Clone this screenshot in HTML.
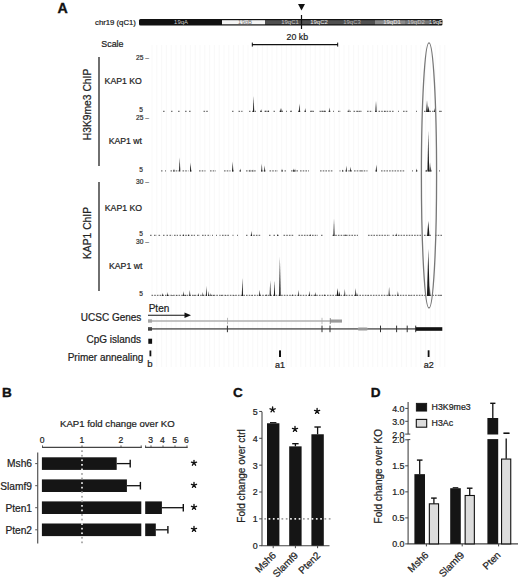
<!DOCTYPE html>
<html><head><meta charset="utf-8"><title>Figure</title>
<style>
html,body{margin:0;padding:0;background:#fff;}
svg{display:block;}
text{font-family:"Liberation Sans", sans-serif;}
</style></head>
<body>
<svg width="520" height="579" viewBox="0 0 520 579">
<rect x="0" y="0" width="520" height="579" fill="#fff"/>
<line x1="152.0" y1="45" x2="152.0" y2="367" stroke="#f6f6f6" stroke-width="0.7" />
<line x1="156.8" y1="45" x2="156.8" y2="367" stroke="#f6f6f6" stroke-width="0.7" />
<line x1="161.6" y1="45" x2="161.6" y2="367" stroke="#f6f6f6" stroke-width="0.7" />
<line x1="166.4" y1="45" x2="166.4" y2="367" stroke="#f6f6f6" stroke-width="0.7" />
<line x1="171.2" y1="45" x2="171.2" y2="367" stroke="#f6f6f6" stroke-width="0.7" />
<line x1="176.0" y1="45" x2="176.0" y2="367" stroke="#f6f6f6" stroke-width="0.7" />
<line x1="180.8" y1="45" x2="180.8" y2="367" stroke="#f6f6f6" stroke-width="0.7" />
<line x1="185.6" y1="45" x2="185.6" y2="367" stroke="#f6f6f6" stroke-width="0.7" />
<line x1="190.4" y1="45" x2="190.4" y2="367" stroke="#f6f6f6" stroke-width="0.7" />
<line x1="195.2" y1="45" x2="195.2" y2="367" stroke="#f6f6f6" stroke-width="0.7" />
<line x1="200.0" y1="45" x2="200.0" y2="367" stroke="#f6f6f6" stroke-width="0.7" />
<line x1="204.8" y1="45" x2="204.8" y2="367" stroke="#f6f6f6" stroke-width="0.7" />
<line x1="209.6" y1="45" x2="209.6" y2="367" stroke="#f6f6f6" stroke-width="0.7" />
<line x1="214.4" y1="45" x2="214.4" y2="367" stroke="#f6f6f6" stroke-width="0.7" />
<line x1="219.2" y1="45" x2="219.2" y2="367" stroke="#f6f6f6" stroke-width="0.7" />
<line x1="224.0" y1="45" x2="224.0" y2="367" stroke="#f6f6f6" stroke-width="0.7" />
<line x1="228.8" y1="45" x2="228.8" y2="367" stroke="#f6f6f6" stroke-width="0.7" />
<line x1="233.6" y1="45" x2="233.6" y2="367" stroke="#f6f6f6" stroke-width="0.7" />
<line x1="238.4" y1="45" x2="238.4" y2="367" stroke="#f6f6f6" stroke-width="0.7" />
<line x1="243.2" y1="45" x2="243.2" y2="367" stroke="#f6f6f6" stroke-width="0.7" />
<line x1="248.0" y1="45" x2="248.0" y2="367" stroke="#f6f6f6" stroke-width="0.7" />
<line x1="252.8" y1="45" x2="252.8" y2="367" stroke="#f6f6f6" stroke-width="0.7" />
<line x1="257.6" y1="45" x2="257.6" y2="367" stroke="#f6f6f6" stroke-width="0.7" />
<line x1="262.4" y1="45" x2="262.4" y2="367" stroke="#f6f6f6" stroke-width="0.7" />
<line x1="267.2" y1="45" x2="267.2" y2="367" stroke="#f6f6f6" stroke-width="0.7" />
<line x1="272.0" y1="45" x2="272.0" y2="367" stroke="#f6f6f6" stroke-width="0.7" />
<line x1="276.8" y1="45" x2="276.8" y2="367" stroke="#f6f6f6" stroke-width="0.7" />
<line x1="281.6" y1="45" x2="281.6" y2="367" stroke="#f6f6f6" stroke-width="0.7" />
<line x1="286.4" y1="45" x2="286.4" y2="367" stroke="#f6f6f6" stroke-width="0.7" />
<line x1="291.2" y1="45" x2="291.2" y2="367" stroke="#f6f6f6" stroke-width="0.7" />
<line x1="296.0" y1="45" x2="296.0" y2="367" stroke="#f6f6f6" stroke-width="0.7" />
<line x1="300.8" y1="45" x2="300.8" y2="367" stroke="#f6f6f6" stroke-width="0.7" />
<line x1="305.6" y1="45" x2="305.6" y2="367" stroke="#f6f6f6" stroke-width="0.7" />
<line x1="310.4" y1="45" x2="310.4" y2="367" stroke="#f6f6f6" stroke-width="0.7" />
<line x1="315.2" y1="45" x2="315.2" y2="367" stroke="#f6f6f6" stroke-width="0.7" />
<line x1="320.0" y1="45" x2="320.0" y2="367" stroke="#f6f6f6" stroke-width="0.7" />
<line x1="324.8" y1="45" x2="324.8" y2="367" stroke="#f6f6f6" stroke-width="0.7" />
<line x1="329.6" y1="45" x2="329.6" y2="367" stroke="#f6f6f6" stroke-width="0.7" />
<line x1="334.4" y1="45" x2="334.4" y2="367" stroke="#f6f6f6" stroke-width="0.7" />
<line x1="339.2" y1="45" x2="339.2" y2="367" stroke="#f6f6f6" stroke-width="0.7" />
<line x1="344.0" y1="45" x2="344.0" y2="367" stroke="#f6f6f6" stroke-width="0.7" />
<line x1="348.8" y1="45" x2="348.8" y2="367" stroke="#f6f6f6" stroke-width="0.7" />
<line x1="353.6" y1="45" x2="353.6" y2="367" stroke="#f6f6f6" stroke-width="0.7" />
<line x1="358.4" y1="45" x2="358.4" y2="367" stroke="#f6f6f6" stroke-width="0.7" />
<line x1="363.2" y1="45" x2="363.2" y2="367" stroke="#f6f6f6" stroke-width="0.7" />
<line x1="368.0" y1="45" x2="368.0" y2="367" stroke="#f6f6f6" stroke-width="0.7" />
<line x1="372.8" y1="45" x2="372.8" y2="367" stroke="#f6f6f6" stroke-width="0.7" />
<line x1="377.6" y1="45" x2="377.6" y2="367" stroke="#f6f6f6" stroke-width="0.7" />
<line x1="382.4" y1="45" x2="382.4" y2="367" stroke="#f6f6f6" stroke-width="0.7" />
<line x1="387.2" y1="45" x2="387.2" y2="367" stroke="#f6f6f6" stroke-width="0.7" />
<line x1="392.0" y1="45" x2="392.0" y2="367" stroke="#f6f6f6" stroke-width="0.7" />
<line x1="396.8" y1="45" x2="396.8" y2="367" stroke="#f6f6f6" stroke-width="0.7" />
<line x1="401.6" y1="45" x2="401.6" y2="367" stroke="#f6f6f6" stroke-width="0.7" />
<line x1="406.4" y1="45" x2="406.4" y2="367" stroke="#f6f6f6" stroke-width="0.7" />
<line x1="411.2" y1="45" x2="411.2" y2="367" stroke="#f6f6f6" stroke-width="0.7" />
<line x1="416.0" y1="45" x2="416.0" y2="367" stroke="#f6f6f6" stroke-width="0.7" />
<line x1="420.8" y1="45" x2="420.8" y2="367" stroke="#f6f6f6" stroke-width="0.7" />
<line x1="425.6" y1="45" x2="425.6" y2="367" stroke="#f6f6f6" stroke-width="0.7" />
<line x1="430.4" y1="45" x2="430.4" y2="367" stroke="#f6f6f6" stroke-width="0.7" />
<line x1="435.2" y1="45" x2="435.2" y2="367" stroke="#f6f6f6" stroke-width="0.7" />
<line x1="440.0" y1="45" x2="440.0" y2="367" stroke="#f6f6f6" stroke-width="0.7" />
<line x1="444.8" y1="45" x2="444.8" y2="367" stroke="#f6f6f6" stroke-width="0.7" />
<text x="57.6" y="12.9" font-size="14.2" text-anchor="start" font-weight="bold" fill="#111" stroke="#111" stroke-width="0.35" >A</text>
<text x="95" y="24.9" font-size="7.75" text-anchor="start" font-weight="normal" fill="#222" stroke="#222" stroke-width="0.22" >chr19 (qC1)</text>
<g>
<rect x="139" y="19" width="303.5" height="6.5" fill="#111" rx="1.5"/>
<rect x="222" y="20.2" width="43" height="4.1" fill="#f4f4f4" />
<rect x="265" y="20.2" width="110" height="4.1" fill="#505050" />
<rect x="375" y="20.2" width="30" height="4.1" fill="#8a8a8a" />
<rect x="405" y="20.2" width="25" height="4.1" fill="#777" />
<rect x="430" y="20.2" width="11" height="4.1" fill="#333" />
<text x="181" y="24.4" font-size="5.9" text-anchor="middle" fill="#ccc">19qA</text>
<text x="245" y="24.4" font-size="5.9" text-anchor="middle" fill="#777">19qB</text>
<text x="290" y="24.4" font-size="5.9" text-anchor="middle" fill="#ccc">19qC1</text>
<text x="319" y="24.4" font-size="5.9" text-anchor="middle" fill="#eee">19qC2</text>
<text x="352" y="24.4" font-size="5.9" text-anchor="middle" fill="#bbb">19qC3</text>
<text x="392" y="24.4" font-size="5.9" text-anchor="middle" fill="#eee">19qD1</text>
<text x="416" y="24.4" font-size="5.9" text-anchor="middle" fill="#ccc">19qD2</text>
<text x="436" y="24.4" font-size="5.9" text-anchor="middle" fill="#eee">19qE</text>
</g>
<path d="M298,4 L305,4 L301.5,10.5 Z" fill="#111"/>
<line x1="301.5" y1="15" x2="301.5" y2="29" stroke="#111" stroke-width="1.2" />
<text x="297.3" y="40.0" font-size="8.8" text-anchor="middle" font-weight="normal" fill="#222" stroke="#222" stroke-width="0.22" >20 kb</text>
<line x1="252" y1="44.6" x2="338" y2="44.6" stroke="#111" stroke-width="1.2" />
<line x1="252.3" y1="42.6" x2="252.3" y2="46.6" stroke="#111" stroke-width="1" />
<line x1="337.7" y1="42.6" x2="337.7" y2="46.6" stroke="#111" stroke-width="1" />
<text x="101.3" y="46.8" font-size="8.9" text-anchor="start" font-weight="normal" fill="#222" stroke="#222" stroke-width="0.22" >Scale</text>
<line x1="99" y1="57" x2="99" y2="166" stroke="#222" stroke-width="1.3" />
<line x1="99" y1="182" x2="99" y2="291" stroke="#222" stroke-width="1.3" />
<text x="0" y="0" font-size="10.3" text-anchor="middle" font-weight="normal" fill="#222" stroke="#222" stroke-width="0.22" transform="translate(90.8,104.5) rotate(-90)">H3K9me3 ChIP</text>
<text x="0" y="0" font-size="10.3" text-anchor="middle" font-weight="normal" fill="#222" stroke="#222" stroke-width="0.22" transform="translate(90.8,233) rotate(-90)">KAP1 ChIP</text>
<text x="104.6" y="83.8" font-size="8.7" text-anchor="start" font-weight="normal" fill="#222" stroke="#222" stroke-width="0.22" >KAP1 KO</text>
<text x="108.7" y="143.5" font-size="8.7" text-anchor="start" font-weight="normal" fill="#222" stroke="#222" stroke-width="0.22" >KAP1 wt</text>
<text x="104.8" y="210.9" font-size="8.7" text-anchor="start" font-weight="normal" fill="#222" stroke="#222" stroke-width="0.22" >KAP1 KO</text>
<text x="109.0" y="268.6" font-size="8.7" text-anchor="start" font-weight="normal" fill="#222" stroke="#222" stroke-width="0.22" >KAP1 wt</text>
<text x="142.5" y="60.0" font-size="6.6" text-anchor="start" font-weight="normal" fill="#333" stroke="#333" stroke-width="0.22" dx="-6.5">25 –</text>
<text x="143.0" y="112" font-size="6.6" text-anchor="end" font-weight="normal" fill="#333" stroke="#333" stroke-width="0.22" >5</text>
<text x="142.5" y="119.5" font-size="6.6" text-anchor="start" font-weight="normal" fill="#333" stroke="#333" stroke-width="0.22" dx="-6.5">25 –</text>
<text x="143.0" y="171.5" font-size="6.6" text-anchor="end" font-weight="normal" fill="#333" stroke="#333" stroke-width="0.22" >5</text>
<text x="142.5" y="184.0" font-size="6.6" text-anchor="start" font-weight="normal" fill="#333" stroke="#333" stroke-width="0.22" dx="-6.5">30 –</text>
<text x="143.0" y="236" font-size="6.6" text-anchor="end" font-weight="normal" fill="#333" stroke="#333" stroke-width="0.22" >5</text>
<text x="142.5" y="243.5" font-size="6.6" text-anchor="start" font-weight="normal" fill="#333" stroke="#333" stroke-width="0.22" dx="-6.5">30 –</text>
<text x="143.0" y="296" font-size="6.6" text-anchor="end" font-weight="normal" fill="#333" stroke="#333" stroke-width="0.22" >5</text>
<line x1="163" y1="111.4" x2="165" y2="111.4" stroke="#777" stroke-width="1.2" stroke-dasharray="1.6 1.1"/>
<line x1="171" y1="111.4" x2="172.5" y2="111.4" stroke="#777" stroke-width="1.2" stroke-dasharray="1.6 1.1"/>
<line x1="178" y1="111.4" x2="180" y2="111.4" stroke="#777" stroke-width="1.2" stroke-dasharray="1.6 1.1"/>
<line x1="185" y1="111.4" x2="187" y2="111.4" stroke="#777" stroke-width="1.2" stroke-dasharray="1.6 1.1"/>
<line x1="189" y1="111.4" x2="191" y2="111.4" stroke="#777" stroke-width="1.2" stroke-dasharray="1.6 1.1"/>
<line x1="203.5" y1="111.4" x2="208.5" y2="111.4" stroke="#777" stroke-width="1.2" stroke-dasharray="1.6 1.1"/>
<line x1="232" y1="111.4" x2="233.5" y2="111.4" stroke="#777" stroke-width="1.2" stroke-dasharray="1.6 1.1"/>
<line x1="238.5" y1="111.4" x2="242.5" y2="111.4" stroke="#777" stroke-width="1.2" stroke-dasharray="1.6 1.1"/>
<line x1="249" y1="111.4" x2="250.5" y2="111.4" stroke="#777" stroke-width="1.2" stroke-dasharray="1.6 1.1"/>
<line x1="252" y1="111.4" x2="256" y2="111.4" stroke="#777" stroke-width="1.2" stroke-dasharray="1.6 1.1"/>
<line x1="260" y1="111.4" x2="262" y2="111.4" stroke="#777" stroke-width="1.2" stroke-dasharray="1.6 1.1"/>
<line x1="264.5" y1="111.4" x2="270" y2="111.4" stroke="#777" stroke-width="1.2" stroke-dasharray="1.6 1.1"/>
<line x1="273.5" y1="111.4" x2="275" y2="111.4" stroke="#777" stroke-width="1.2" stroke-dasharray="1.6 1.1"/>
<line x1="279.5" y1="111.4" x2="283" y2="111.4" stroke="#777" stroke-width="1.2" stroke-dasharray="1.6 1.1"/>
<line x1="286" y1="111.4" x2="287" y2="111.4" stroke="#777" stroke-width="1.2" stroke-dasharray="1.6 1.1"/>
<line x1="290" y1="111.4" x2="291.5" y2="111.4" stroke="#777" stroke-width="1.2" stroke-dasharray="1.6 1.1"/>
<line x1="291" y1="111.4" x2="292" y2="111.4" stroke="#777" stroke-width="1.2" stroke-dasharray="1.6 1.1"/>
<line x1="298" y1="111.4" x2="301" y2="111.4" stroke="#777" stroke-width="1.2" stroke-dasharray="1.6 1.1"/>
<line x1="304.5" y1="111.4" x2="306" y2="111.4" stroke="#777" stroke-width="1.2" stroke-dasharray="1.6 1.1"/>
<line x1="310" y1="111.4" x2="314" y2="111.4" stroke="#777" stroke-width="1.2" stroke-dasharray="1.6 1.1"/>
<line x1="319.5" y1="111.4" x2="326" y2="111.4" stroke="#777" stroke-width="1.2" stroke-dasharray="1.6 1.1"/>
<line x1="328.5" y1="111.4" x2="331" y2="111.4" stroke="#777" stroke-width="1.2" stroke-dasharray="1.6 1.1"/>
<line x1="333" y1="111.4" x2="334" y2="111.4" stroke="#777" stroke-width="1.2" stroke-dasharray="1.6 1.1"/>
<line x1="338" y1="111.4" x2="341" y2="111.4" stroke="#777" stroke-width="1.2" stroke-dasharray="1.6 1.1"/>
<line x1="347.5" y1="111.4" x2="351" y2="111.4" stroke="#777" stroke-width="1.2" stroke-dasharray="1.6 1.1"/>
<line x1="353.5" y1="111.4" x2="361" y2="111.4" stroke="#777" stroke-width="1.2" stroke-dasharray="1.6 1.1"/>
<line x1="360.5" y1="111.4" x2="361.5" y2="111.4" stroke="#777" stroke-width="1.2" stroke-dasharray="1.6 1.1"/>
<line x1="367" y1="111.4" x2="372.5" y2="111.4" stroke="#777" stroke-width="1.2" stroke-dasharray="1.6 1.1"/>
<line x1="375" y1="111.4" x2="377" y2="111.4" stroke="#777" stroke-width="1.2" stroke-dasharray="1.6 1.1"/>
<line x1="378.5" y1="111.4" x2="394" y2="111.4" stroke="#777" stroke-width="1.2" stroke-dasharray="1.6 1.1"/>
<line x1="398" y1="111.4" x2="399" y2="111.4" stroke="#777" stroke-width="1.2" stroke-dasharray="1.6 1.1"/>
<line x1="403" y1="111.4" x2="407.5" y2="111.4" stroke="#777" stroke-width="1.2" stroke-dasharray="1.6 1.1"/>
<line x1="416" y1="111.4" x2="417" y2="111.4" stroke="#777" stroke-width="1.2" stroke-dasharray="1.6 1.1"/>
<line x1="424" y1="111.4" x2="433" y2="111.4" stroke="#777" stroke-width="1.2" stroke-dasharray="1.6 1.1"/>
<line x1="433.5" y1="111.4" x2="435" y2="111.4" stroke="#777" stroke-width="1.2" stroke-dasharray="1.6 1.1"/>
<line x1="439" y1="111.4" x2="442" y2="111.4" stroke="#777" stroke-width="1.2" stroke-dasharray="1.6 1.1"/>
<path d="M252.96,112.00 L253.60,96.00 L254.24,112.00 Z" fill="#1a1a1a"/>
<path d="M260.60,112.00 L261.10,109.00 L261.60,112.00 Z" fill="#1a1a1a"/>
<path d="M265.50,112.00 L266.00,110.00 L266.50,112.00 Z" fill="#1a1a1a"/>
<path d="M268.00,112.00 L268.50,110.00 L269.00,112.00 Z" fill="#1a1a1a"/>
<path d="M280.00,112.00 L280.50,108.00 L281.00,112.00 Z" fill="#1a1a1a"/>
<path d="M281.30,112.00 L281.80,108.00 L282.30,112.00 Z" fill="#1a1a1a"/>
<path d="M298.76,112.00 L299.40,103.50 L300.04,112.00 Z" fill="#1a1a1a"/>
<path d="M304.70,112.00 L305.20,108.00 L305.70,112.00 Z" fill="#1a1a1a"/>
<path d="M311.50,112.00 L312.00,110.00 L312.50,112.00 Z" fill="#1a1a1a"/>
<path d="M321.50,112.00 L322.00,110.00 L322.50,112.00 Z" fill="#1a1a1a"/>
<path d="M324.00,112.00 L324.50,110.00 L325.00,112.00 Z" fill="#1a1a1a"/>
<path d="M329.14,112.00 L329.70,107.40 L330.26,112.00 Z" fill="#1a1a1a"/>
<path d="M348.50,112.00 L349.00,109.00 L349.50,112.00 Z" fill="#1a1a1a"/>
<path d="M375.36,112.00 L376.00,100.50 L376.64,112.00 Z" fill="#1a1a1a"/>
<path d="M384.50,112.00 L385.00,110.50 L385.50,112.00 Z" fill="#1a1a1a"/>
<path d="M426.12,112.00 L427.00,100.50 L427.88,112.00 Z" fill="#1a1a1a"/>
<path d="M427.80,112.00 L428.60,106.00 L429.40,112.00 Z" fill="#1a1a1a"/>
<path d="M433.80,112.00 L434.30,108.00 L434.80,112.00 Z" fill="#1a1a1a"/>
<path d="M440.50,112.00 L441.00,110.50 L441.50,112.00 Z" fill="#1a1a1a"/>
<path d="M357.50,112.00 L358.00,110.50 L358.50,112.00 Z" fill="#1a1a1a"/>
<line x1="161" y1="170.9" x2="162.5" y2="170.9" stroke="#777" stroke-width="1.2" stroke-dasharray="1.6 1.1"/>
<line x1="165" y1="170.9" x2="166" y2="170.9" stroke="#777" stroke-width="1.2" stroke-dasharray="1.6 1.1"/>
<line x1="170.5" y1="170.9" x2="172" y2="170.9" stroke="#777" stroke-width="1.2" stroke-dasharray="1.6 1.1"/>
<line x1="173" y1="170.9" x2="179" y2="170.9" stroke="#777" stroke-width="1.2" stroke-dasharray="1.6 1.1"/>
<line x1="182.5" y1="170.9" x2="188.5" y2="170.9" stroke="#777" stroke-width="1.2" stroke-dasharray="1.6 1.1"/>
<line x1="190" y1="170.9" x2="191.5" y2="170.9" stroke="#777" stroke-width="1.2" stroke-dasharray="1.6 1.1"/>
<line x1="199" y1="170.9" x2="205.5" y2="170.9" stroke="#777" stroke-width="1.2" stroke-dasharray="1.6 1.1"/>
<line x1="210" y1="170.9" x2="216" y2="170.9" stroke="#777" stroke-width="1.2" stroke-dasharray="1.6 1.1"/>
<line x1="224" y1="170.9" x2="230.5" y2="170.9" stroke="#777" stroke-width="1.2" stroke-dasharray="1.6 1.1"/>
<line x1="232" y1="170.9" x2="234" y2="170.9" stroke="#777" stroke-width="1.2" stroke-dasharray="1.6 1.1"/>
<line x1="239.5" y1="170.9" x2="241" y2="170.9" stroke="#777" stroke-width="1.2" stroke-dasharray="1.6 1.1"/>
<line x1="246" y1="170.9" x2="256.5" y2="170.9" stroke="#777" stroke-width="1.2" stroke-dasharray="1.6 1.1"/>
<line x1="261" y1="170.9" x2="266" y2="170.9" stroke="#777" stroke-width="1.2" stroke-dasharray="1.6 1.1"/>
<line x1="269.5" y1="170.9" x2="278" y2="170.9" stroke="#777" stroke-width="1.2" stroke-dasharray="1.6 1.1"/>
<line x1="281.5" y1="170.9" x2="283" y2="170.9" stroke="#777" stroke-width="1.2" stroke-dasharray="1.6 1.1"/>
<line x1="284.5" y1="170.9" x2="286" y2="170.9" stroke="#777" stroke-width="1.2" stroke-dasharray="1.6 1.1"/>
<line x1="293" y1="170.9" x2="294.5" y2="170.9" stroke="#777" stroke-width="1.2" stroke-dasharray="1.6 1.1"/>
<line x1="291" y1="170.9" x2="299" y2="170.9" stroke="#777" stroke-width="1.2" stroke-dasharray="1.6 1.1"/>
<line x1="300" y1="170.9" x2="309" y2="170.9" stroke="#777" stroke-width="1.2" stroke-dasharray="1.6 1.1"/>
<line x1="320" y1="170.9" x2="333.5" y2="170.9" stroke="#777" stroke-width="1.2" stroke-dasharray="1.6 1.1"/>
<line x1="339.5" y1="170.9" x2="340.5" y2="170.9" stroke="#777" stroke-width="1.2" stroke-dasharray="1.6 1.1"/>
<line x1="342" y1="170.9" x2="343.5" y2="170.9" stroke="#777" stroke-width="1.2" stroke-dasharray="1.6 1.1"/>
<line x1="345.5" y1="170.9" x2="352" y2="170.9" stroke="#777" stroke-width="1.2" stroke-dasharray="1.6 1.1"/>
<line x1="354" y1="170.9" x2="362.5" y2="170.9" stroke="#777" stroke-width="1.2" stroke-dasharray="1.6 1.1"/>
<line x1="361" y1="170.9" x2="367.5" y2="170.9" stroke="#777" stroke-width="1.2" stroke-dasharray="1.6 1.1"/>
<line x1="375.5" y1="170.9" x2="377" y2="170.9" stroke="#777" stroke-width="1.2" stroke-dasharray="1.6 1.1"/>
<line x1="381" y1="170.9" x2="404.5" y2="170.9" stroke="#777" stroke-width="1.2" stroke-dasharray="1.6 1.1"/>
<line x1="412" y1="170.9" x2="413" y2="170.9" stroke="#777" stroke-width="1.2" stroke-dasharray="1.6 1.1"/>
<line x1="416" y1="170.9" x2="417.5" y2="170.9" stroke="#777" stroke-width="1.2" stroke-dasharray="1.6 1.1"/>
<line x1="425.5" y1="170.9" x2="431.5" y2="170.9" stroke="#777" stroke-width="1.2" stroke-dasharray="1.6 1.1"/>
<line x1="439" y1="170.9" x2="440" y2="170.9" stroke="#777" stroke-width="1.2" stroke-dasharray="1.6 1.1"/>
<path d="M173.50,171.50 L174.00,168.50 L174.50,171.50 Z" fill="#1a1a1a"/>
<path d="M179.06,171.50 L179.70,157.50 L180.34,171.50 Z" fill="#1a1a1a"/>
<path d="M189.96,171.50 L190.60,162.50 L191.24,171.50 Z" fill="#1a1a1a"/>
<path d="M232.06,171.50 L232.70,161.50 L233.34,171.50 Z" fill="#1a1a1a"/>
<path d="M239.70,171.50 L240.20,168.50 L240.70,171.50 Z" fill="#1a1a1a"/>
<path d="M249.50,171.50 L250.00,169.50 L250.50,171.50 Z" fill="#1a1a1a"/>
<path d="M252.50,171.50 L253.00,169.50 L253.50,171.50 Z" fill="#1a1a1a"/>
<path d="M261.24,171.50 L261.80,163.50 L262.36,171.50 Z" fill="#1a1a1a"/>
<path d="M264.14,171.50 L264.70,165.50 L265.26,171.50 Z" fill="#1a1a1a"/>
<path d="M281.50,171.50 L282.00,168.50 L282.50,171.50 Z" fill="#1a1a1a"/>
<path d="M293.10,171.50 L293.60,168.50 L294.10,171.50 Z" fill="#1a1a1a"/>
<path d="M294.50,171.50 L295.00,168.50 L295.50,171.50 Z" fill="#1a1a1a"/>
<path d="M342.20,171.50 L342.70,169.50 L343.20,171.50 Z" fill="#1a1a1a"/>
<path d="M345.74,171.50 L346.30,165.50 L346.86,171.50 Z" fill="#1a1a1a"/>
<path d="M350.04,171.50 L350.60,166.50 L351.16,171.50 Z" fill="#1a1a1a"/>
<path d="M375.66,171.50 L376.30,164.50 L376.94,171.50 Z" fill="#1a1a1a"/>
<path d="M415.90,171.50 L416.40,168.50 L416.90,171.50 Z" fill="#1a1a1a"/>
<path d="M425.70,171.50 L426.20,169.50 L426.70,171.50 Z" fill="#1a1a1a"/>
<path d="M427.42,171.50 L428.30,130.50 L429.18,171.50 Z" fill="#1a1a1a"/>
<path d="M429.36,171.50 L430.00,162.50 L430.64,171.50 Z" fill="#1a1a1a"/>
<path d="M430.30,171.50 L430.80,166.50 L431.30,171.50 Z" fill="#1a1a1a"/>
<line x1="150" y1="235.4" x2="152.5" y2="235.4" stroke="#777" stroke-width="1.2" stroke-dasharray="1.6 1.1"/>
<line x1="154" y1="235.4" x2="157" y2="235.4" stroke="#777" stroke-width="1.2" stroke-dasharray="1.6 1.1"/>
<line x1="158.5" y1="235.4" x2="161" y2="235.4" stroke="#777" stroke-width="1.2" stroke-dasharray="1.6 1.1"/>
<line x1="163" y1="235.4" x2="164.5" y2="235.4" stroke="#777" stroke-width="1.2" stroke-dasharray="1.6 1.1"/>
<line x1="166.5" y1="235.4" x2="168" y2="235.4" stroke="#777" stroke-width="1.2" stroke-dasharray="1.6 1.1"/>
<line x1="169.5" y1="235.4" x2="172.5" y2="235.4" stroke="#777" stroke-width="1.2" stroke-dasharray="1.6 1.1"/>
<line x1="174" y1="235.4" x2="178" y2="235.4" stroke="#777" stroke-width="1.2" stroke-dasharray="1.6 1.1"/>
<line x1="179.5" y1="235.4" x2="181" y2="235.4" stroke="#777" stroke-width="1.2" stroke-dasharray="1.6 1.1"/>
<line x1="182.5" y1="235.4" x2="190" y2="235.4" stroke="#777" stroke-width="1.2" stroke-dasharray="1.6 1.1"/>
<line x1="191" y1="235.4" x2="195" y2="235.4" stroke="#777" stroke-width="1.2" stroke-dasharray="1.6 1.1"/>
<line x1="197" y1="235.4" x2="200" y2="235.4" stroke="#777" stroke-width="1.2" stroke-dasharray="1.6 1.1"/>
<line x1="202" y1="235.4" x2="206" y2="235.4" stroke="#777" stroke-width="1.2" stroke-dasharray="1.6 1.1"/>
<line x1="207.5" y1="235.4" x2="210.5" y2="235.4" stroke="#777" stroke-width="1.2" stroke-dasharray="1.6 1.1"/>
<line x1="212" y1="235.4" x2="213" y2="235.4" stroke="#777" stroke-width="1.2" stroke-dasharray="1.6 1.1"/>
<line x1="216" y1="235.4" x2="217" y2="235.4" stroke="#777" stroke-width="1.2" stroke-dasharray="1.6 1.1"/>
<line x1="219.5" y1="235.4" x2="220.5" y2="235.4" stroke="#777" stroke-width="1.2" stroke-dasharray="1.6 1.1"/>
<line x1="222" y1="235.4" x2="229" y2="235.4" stroke="#777" stroke-width="1.2" stroke-dasharray="1.6 1.1"/>
<line x1="232.5" y1="235.4" x2="233.5" y2="235.4" stroke="#777" stroke-width="1.2" stroke-dasharray="1.6 1.1"/>
<line x1="237" y1="235.4" x2="238" y2="235.4" stroke="#777" stroke-width="1.2" stroke-dasharray="1.6 1.1"/>
<line x1="246" y1="235.4" x2="247.5" y2="235.4" stroke="#777" stroke-width="1.2" stroke-dasharray="1.6 1.1"/>
<line x1="250.5" y1="235.4" x2="261" y2="235.4" stroke="#777" stroke-width="1.2" stroke-dasharray="1.6 1.1"/>
<line x1="269" y1="235.4" x2="270.5" y2="235.4" stroke="#777" stroke-width="1.2" stroke-dasharray="1.6 1.1"/>
<line x1="273.5" y1="235.4" x2="275" y2="235.4" stroke="#777" stroke-width="1.2" stroke-dasharray="1.6 1.1"/>
<line x1="277" y1="235.4" x2="279" y2="235.4" stroke="#777" stroke-width="1.2" stroke-dasharray="1.6 1.1"/>
<line x1="283.5" y1="235.4" x2="294" y2="235.4" stroke="#777" stroke-width="1.2" stroke-dasharray="1.6 1.1"/>
<line x1="298.5" y1="235.4" x2="318" y2="235.4" stroke="#777" stroke-width="1.2" stroke-dasharray="1.6 1.1"/>
<line x1="321" y1="235.4" x2="322.5" y2="235.4" stroke="#777" stroke-width="1.2" stroke-dasharray="1.6 1.1"/>
<line x1="332.5" y1="235.4" x2="358" y2="235.4" stroke="#777" stroke-width="1.2" stroke-dasharray="1.6 1.1"/>
<line x1="368" y1="235.4" x2="390" y2="235.4" stroke="#777" stroke-width="1.2" stroke-dasharray="1.6 1.1"/>
<line x1="392.5" y1="235.4" x2="421" y2="235.4" stroke="#777" stroke-width="1.2" stroke-dasharray="1.6 1.1"/>
<line x1="424" y1="235.4" x2="432" y2="235.4" stroke="#777" stroke-width="1.2" stroke-dasharray="1.6 1.1"/>
<line x1="435" y1="235.4" x2="442" y2="235.4" stroke="#777" stroke-width="1.2" stroke-dasharray="1.6 1.1"/>
<path d="M182.90,236.00 L183.40,234.00 L183.90,236.00 Z" fill="#1a1a1a"/>
<path d="M187.90,236.00 L188.40,234.00 L188.90,236.00 Z" fill="#1a1a1a"/>
<path d="M250.94,236.00 L251.50,231.00 L252.06,236.00 Z" fill="#1a1a1a"/>
<path d="M277.20,236.00 L277.70,234.00 L278.20,236.00 Z" fill="#1a1a1a"/>
<path d="M309.70,236.00 L310.20,234.00 L310.70,236.00 Z" fill="#1a1a1a"/>
<path d="M333.36,236.00 L334.00,219.00 L334.64,236.00 Z" fill="#1a1a1a"/>
<path d="M345.10,236.00 L345.60,234.00 L346.10,236.00 Z" fill="#1a1a1a"/>
<path d="M395.80,236.00 L396.30,233.00 L396.80,236.00 Z" fill="#1a1a1a"/>
<path d="M427.10,236.00 L428.30,221.00 L429.50,236.00 Z" fill="#1a1a1a"/>
<line x1="151.5" y1="295.4" x2="442" y2="295.4" stroke="#777" stroke-width="1.2" stroke-dasharray="1.6 1.1"/>
<path d="M161.84,296.00 L162.40,293.00 L162.96,296.00 Z" fill="#1a1a1a"/>
<path d="M166.94,296.00 L167.50,292.00 L168.06,296.00 Z" fill="#1a1a1a"/>
<path d="M172.00,296.00 L172.50,295.00 L173.00,296.00 Z" fill="#1a1a1a"/>
<path d="M176.40,296.00 L176.90,295.00 L177.40,296.00 Z" fill="#1a1a1a"/>
<path d="M182.84,296.00 L183.40,291.00 L183.96,296.00 Z" fill="#1a1a1a"/>
<path d="M185.00,296.00 L185.50,294.50 L186.00,296.00 Z" fill="#1a1a1a"/>
<path d="M189.24,296.00 L189.80,290.00 L190.36,296.00 Z" fill="#1a1a1a"/>
<path d="M193.70,296.00 L194.20,294.50 L194.70,296.00 Z" fill="#1a1a1a"/>
<path d="M198.00,296.00 L198.50,293.00 L199.00,296.00 Z" fill="#1a1a1a"/>
<path d="M202.30,296.00 L202.80,292.00 L203.30,296.00 Z" fill="#1a1a1a"/>
<path d="M205.84,296.00 L206.40,286.00 L206.96,296.00 Z" fill="#1a1a1a"/>
<path d="M208.10,296.00 L208.60,291.00 L209.10,296.00 Z" fill="#1a1a1a"/>
<path d="M210.30,296.00 L210.80,293.00 L211.30,296.00 Z" fill="#1a1a1a"/>
<path d="M213.20,296.00 L213.70,294.50 L214.20,296.00 Z" fill="#1a1a1a"/>
<path d="M221.10,296.00 L221.60,294.50 L222.10,296.00 Z" fill="#1a1a1a"/>
<path d="M225.50,296.00 L226.00,295.00 L226.50,296.00 Z" fill="#1a1a1a"/>
<path d="M233.50,296.00 L234.00,295.00 L234.50,296.00 Z" fill="#1a1a1a"/>
<path d="M241.76,296.00 L242.40,278.00 L243.04,296.00 Z" fill="#1a1a1a"/>
<path d="M251.50,296.00 L252.00,295.00 L252.50,296.00 Z" fill="#1a1a1a"/>
<path d="M259.06,296.00 L259.70,290.00 L260.34,296.00 Z" fill="#1a1a1a"/>
<path d="M265.70,296.00 L266.20,294.00 L266.70,296.00 Z" fill="#1a1a1a"/>
<path d="M269.56,296.00 L270.20,280.50 L270.84,296.00 Z" fill="#1a1a1a"/>
<path d="M273.86,296.00 L274.50,280.50 L275.14,296.00 Z" fill="#1a1a1a"/>
<path d="M279.10,296.00 L279.90,257.00 L280.70,296.00 Z" fill="#1a1a1a"/>
<path d="M291.70,296.00 L292.20,294.00 L292.70,296.00 Z" fill="#1a1a1a"/>
<path d="M298.14,296.00 L298.70,290.00 L299.26,296.00 Z" fill="#1a1a1a"/>
<path d="M308.94,296.00 L309.50,291.00 L310.06,296.00 Z" fill="#1a1a1a"/>
<path d="M314.74,296.00 L315.30,292.00 L315.86,296.00 Z" fill="#1a1a1a"/>
<path d="M324.10,296.00 L324.60,294.00 L325.10,296.00 Z" fill="#1a1a1a"/>
<path d="M336.64,296.00 L337.60,288.00 L338.56,296.00 Z" fill="#1a1a1a"/>
<path d="M338.76,296.00 L339.40,291.00 L340.04,296.00 Z" fill="#1a1a1a"/>
<path d="M344.24,296.00 L344.80,289.00 L345.36,296.00 Z" fill="#1a1a1a"/>
<path d="M355.06,296.00 L355.70,288.00 L356.34,296.00 Z" fill="#1a1a1a"/>
<path d="M356.50,296.00 L357.00,293.00 L357.50,296.00 Z" fill="#1a1a1a"/>
<path d="M367.50,296.00 L368.00,295.00 L368.50,296.00 Z" fill="#1a1a1a"/>
<path d="M388.46,296.00 L389.10,287.00 L389.74,296.00 Z" fill="#1a1a1a"/>
<path d="M397.34,296.00 L397.90,291.00 L398.46,296.00 Z" fill="#1a1a1a"/>
<path d="M409.50,296.00 L410.00,295.00 L410.50,296.00 Z" fill="#1a1a1a"/>
<path d="M426.94,296.00 L428.30,249.00 L429.66,296.00 Z" fill="#1a1a1a"/>
<path d="M429.16,296.00 L429.80,286.00 L430.44,296.00 Z" fill="#1a1a1a"/>
<path d="M439.50,296.00 L440.00,294.50 L440.50,296.00 Z" fill="#1a1a1a"/>
<ellipse cx="429" cy="175.4" rx="7.6" ry="132.6" fill="none" stroke="#777" stroke-width="1.3"/>
<text x="80.8" y="320.8" font-size="10" text-anchor="start" font-weight="normal" fill="#222" stroke="#222" stroke-width="0.22" >UCSC Genes</text>
<text x="86.5" y="342.7" font-size="10" text-anchor="start" font-weight="normal" fill="#222" stroke="#222" stroke-width="0.22" >CpG islands</text>
<text x="67.7" y="360.6" font-size="10" text-anchor="start" font-weight="normal" fill="#222" stroke="#222" stroke-width="0.22" >Primer annealing</text>
<text x="148.7" y="312.1" font-size="10" text-anchor="start" font-weight="normal" fill="#222" stroke="#222" stroke-width="0.22" >Pten</text>
<line x1="148" y1="315.3" x2="186" y2="315.3" stroke="#111" stroke-width="1.1" />
<path d="M184.5,312.6 L191,315.3 L184.5,318 Z" fill="#111"/>
<rect x="148" y="319.4" width="4" height="3.2" fill="#999" />
<rect x="148" y="320.3" width="182" height="1.4" fill="#aaa" />
<rect x="227.0" y="317.8" width="0.8" height="6.4" fill="#aaa" />
<rect x="321.6" y="317.8" width="0.8" height="6.4" fill="#aaa" />
<rect x="330" y="319.5" width="12" height="3.1" fill="#999" />
<rect x="329.8" y="318" width="0.9" height="6" fill="#888" />
<rect x="148" y="327.3" width="4" height="3.3" fill="#222" />
<rect x="148" y="328.2" width="268" height="1.4" fill="#555" />
<rect x="226.9" y="325.6" width="1.0" height="6.6" fill="#333" />
<rect x="321.5" y="325.6" width="1.0" height="6.6" fill="#333" />
<rect x="329.5" y="325.6" width="1.0" height="6.6" fill="#333" />
<rect x="380.0" y="325.6" width="1.0" height="6.6" fill="#333" />
<rect x="396.1" y="325.6" width="1.0" height="6.6" fill="#333" />
<rect x="406.7" y="325.6" width="1.0" height="6.6" fill="#333" />
<rect x="415.2" y="325.6" width="1.0" height="6.6" fill="#333" />
<rect x="357.7" y="327.6" width="10" height="2.8" rx="1.2" fill="#999"/>
<rect x="415.7" y="327.2" width="26.6" height="3.6" fill="#111" />
<rect x="148.3" y="338.7" width="3.8" height="5.1" fill="#111" />
<rect x="149.5" y="350.5" width="1.8" height="5.8" fill="#111" />
<rect x="279" y="350.4" width="2" height="6.6" fill="#111" />
<rect x="427.7" y="350.3" width="1.8" height="6.7" fill="#111" />
<text x="150" y="367.1" font-size="9.5" text-anchor="middle" font-weight="normal" fill="#222" stroke="#222" stroke-width="0.22" >b</text>
<text x="280" y="367.5" font-size="9" text-anchor="middle" font-weight="normal" fill="#222" stroke="#222" stroke-width="0.22" >a1</text>
<text x="428.8" y="367.5" font-size="9" text-anchor="middle" font-weight="normal" fill="#222" stroke="#222" stroke-width="0.22" >a2</text>
<text x="2.0" y="397.3" font-size="13.6" text-anchor="start" font-weight="bold" fill="#111" stroke="#111" stroke-width="0.35" >B</text>
<text x="60" y="426.7" font-size="9.6" text-anchor="start" font-weight="normal" fill="#222" stroke="#222" stroke-width="0.22" >KAP1 fold change over KO</text>
<text x="42.1" y="442.9" font-size="8.6" text-anchor="middle" font-weight="normal" fill="#222" stroke="#222" stroke-width="0.22" >0</text>
<text x="82" y="442.9" font-size="8.6" text-anchor="middle" font-weight="normal" fill="#222" stroke="#222" stroke-width="0.22" >1</text>
<text x="120.8" y="442.9" font-size="8.6" text-anchor="middle" font-weight="normal" fill="#222" stroke="#222" stroke-width="0.22" >2</text>
<text x="150.6" y="442.9" font-size="8.6" text-anchor="middle" font-weight="normal" fill="#222" stroke="#222" stroke-width="0.22" >3</text>
<text x="162.4" y="442.9" font-size="8.6" text-anchor="middle" font-weight="normal" fill="#222" stroke="#222" stroke-width="0.22" >4</text>
<text x="174.7" y="442.9" font-size="8.6" text-anchor="middle" font-weight="normal" fill="#222" stroke="#222" stroke-width="0.22" >5</text>
<text x="186.4" y="442.9" font-size="8.6" text-anchor="middle" font-weight="normal" fill="#222" stroke="#222" stroke-width="0.22" >6</text>
<line x1="42.3" y1="447.4" x2="141.7" y2="447.4" stroke="#444" stroke-width="1.1" />
<line x1="145.1" y1="447.4" x2="187.5" y2="447.4" stroke="#444" stroke-width="1.1" />
<line x1="42.5" y1="445.4" x2="42.5" y2="448" stroke="#444" stroke-width="0.9" />
<line x1="82" y1="445.4" x2="82" y2="448" stroke="#444" stroke-width="0.9" />
<line x1="121" y1="445.4" x2="121" y2="448" stroke="#444" stroke-width="0.9" />
<line x1="141.2" y1="445.4" x2="141.2" y2="448" stroke="#444" stroke-width="0.9" />
<line x1="145.6" y1="445.4" x2="145.6" y2="448" stroke="#444" stroke-width="0.9" />
<line x1="151" y1="445.4" x2="151" y2="448" stroke="#444" stroke-width="0.9" />
<line x1="163" y1="445.4" x2="163" y2="448" stroke="#444" stroke-width="0.9" />
<line x1="175" y1="445.4" x2="175" y2="448" stroke="#444" stroke-width="0.9" />
<line x1="187" y1="445.4" x2="187" y2="448" stroke="#444" stroke-width="0.9" />
<line x1="37.7" y1="452.6" x2="37.7" y2="543.5" stroke="#555" stroke-width="1.2" />
<text x="32" y="467.40000000000003" font-size="10.2" text-anchor="end" font-weight="normal" fill="#222" stroke="#222" stroke-width="0.22" >Msh6</text>
<line x1="35.2" y1="463.6" x2="37.7" y2="463.6" stroke="#555" stroke-width="1" />
<rect x="41.9" y="457.3" width="74.80000000000001" height="12.6" fill="#151515" />
<line x1="116.7" y1="463.6" x2="130.2" y2="463.6" stroke="#111" stroke-width="1.3" />
<line x1="130.2" y1="459.8" x2="130.2" y2="467.40000000000003" stroke="#111" stroke-width="1.4" />
<path d="M194.00,463.00L194.00,460.30M194.00,463.00L196.57,462.17M194.00,463.00L195.59,465.18M194.00,463.00L192.41,465.18M194.00,463.00L191.43,462.17" stroke="#111" stroke-width="1.35" stroke-linecap="round" fill="none"/>
<text x="32" y="489.5" font-size="10.2" text-anchor="end" font-weight="normal" fill="#222" stroke="#222" stroke-width="0.22" >Slamf9</text>
<line x1="35.2" y1="485.7" x2="37.7" y2="485.7" stroke="#555" stroke-width="1" />
<rect x="41.9" y="479.4" width="85.0" height="12.6" fill="#151515" />
<line x1="126.9" y1="485.7" x2="140.4" y2="485.7" stroke="#111" stroke-width="1.3" />
<line x1="140.4" y1="481.9" x2="140.4" y2="489.5" stroke="#111" stroke-width="1.4" />
<path d="M194.00,485.10L194.00,482.40M194.00,485.10L196.57,484.27M194.00,485.10L195.59,487.28M194.00,485.10L192.41,487.28M194.00,485.10L191.43,484.27" stroke="#111" stroke-width="1.35" stroke-linecap="round" fill="none"/>
<text x="32" y="511.5" font-size="10.2" text-anchor="end" font-weight="normal" fill="#222" stroke="#222" stroke-width="0.22" >Pten1</text>
<line x1="35.2" y1="507.7" x2="37.7" y2="507.7" stroke="#555" stroke-width="1" />
<rect x="41.9" y="501.4" width="99.4" height="12.6" fill="#151515" />
<rect x="145.2" y="501.4" width="16.700000000000017" height="12.6" fill="#151515" />
<line x1="161.9" y1="507.7" x2="183.3" y2="507.7" stroke="#111" stroke-width="1.3" />
<line x1="183.3" y1="503.9" x2="183.3" y2="511.5" stroke="#111" stroke-width="1.4" />
<path d="M194.00,507.10L194.00,504.40M194.00,507.10L196.57,506.27M194.00,507.10L195.59,509.28M194.00,507.10L192.41,509.28M194.00,507.10L191.43,506.27" stroke="#111" stroke-width="1.35" stroke-linecap="round" fill="none"/>
<text x="32" y="533.5999999999999" font-size="10.2" text-anchor="end" font-weight="normal" fill="#222" stroke="#222" stroke-width="0.22" >Pten2</text>
<line x1="35.2" y1="529.8" x2="37.7" y2="529.8" stroke="#555" stroke-width="1" />
<rect x="41.9" y="523.5" width="99.4" height="12.6" fill="#151515" />
<rect x="145.2" y="523.5" width="10.600000000000023" height="12.6" fill="#151515" />
<line x1="155.8" y1="529.8" x2="167.9" y2="529.8" stroke="#111" stroke-width="1.3" />
<line x1="167.9" y1="526.0" x2="167.9" y2="533.5999999999999" stroke="#111" stroke-width="1.4" />
<path d="M194.00,529.20L194.00,526.50M194.00,529.20L196.57,528.37M194.00,529.20L195.59,531.38M194.00,529.20L192.41,531.38M194.00,529.20L191.43,528.37" stroke="#111" stroke-width="1.35" stroke-linecap="round" fill="none"/>
<rect x="81.15" y="450.3" width="1.7" height="1.7" fill="#a0a0a0" />
<rect x="81.15" y="454.86" width="1.7" height="1.7" fill="#a0a0a0" />
<rect x="81.15" y="459.42" width="1.7" height="1.7" fill="#eee" />
<rect x="81.15" y="463.98" width="1.7" height="1.7" fill="#eee" />
<rect x="81.15" y="468.54" width="1.7" height="1.7" fill="#eee" />
<rect x="81.15" y="473.1" width="1.7" height="1.7" fill="#a0a0a0" />
<rect x="81.15" y="477.66" width="1.7" height="1.7" fill="#a0a0a0" />
<rect x="81.15" y="482.22" width="1.7" height="1.7" fill="#eee" />
<rect x="81.15" y="486.78" width="1.7" height="1.7" fill="#eee" />
<rect x="81.15" y="491.34" width="1.7" height="1.7" fill="#a0a0a0" />
<rect x="81.15" y="495.9" width="1.7" height="1.7" fill="#a0a0a0" />
<rect x="81.15" y="500.46" width="1.7" height="1.7" fill="#a0a0a0" />
<rect x="81.15" y="505.02" width="1.7" height="1.7" fill="#eee" />
<rect x="81.15" y="509.58" width="1.7" height="1.7" fill="#eee" />
<rect x="81.15" y="514.14" width="1.7" height="1.7" fill="#a0a0a0" />
<rect x="81.15" y="518.7" width="1.7" height="1.7" fill="#a0a0a0" />
<rect x="81.15" y="523.26" width="1.7" height="1.7" fill="#eee" />
<rect x="81.15" y="527.82" width="1.7" height="1.7" fill="#eee" />
<rect x="81.15" y="532.38" width="1.7" height="1.7" fill="#eee" />
<rect x="81.15" y="536.94" width="1.7" height="1.7" fill="#a0a0a0" />
<rect x="81.15" y="541.5" width="1.7" height="1.7" fill="#a0a0a0" />
<text x="233.0" y="397.3" font-size="13.6" text-anchor="start" font-weight="bold" fill="#111" stroke="#111" stroke-width="0.35" >C</text>
<line x1="262" y1="411.8" x2="262" y2="545.7" stroke="#444" stroke-width="1.1" />
<line x1="261.5" y1="545.7" x2="329.5" y2="545.7" stroke="#444" stroke-width="1.1" />
<line x1="259.2" y1="545.7" x2="262" y2="545.7" stroke="#444" stroke-width="1" />
<text x="257.6" y="549.1" font-size="8.9" text-anchor="end" font-weight="normal" fill="#222" stroke="#222" stroke-width="0.22" >0</text>
<line x1="259.2" y1="518.85" x2="262" y2="518.85" stroke="#444" stroke-width="1" />
<text x="257.6" y="522.25" font-size="8.9" text-anchor="end" font-weight="normal" fill="#222" stroke="#222" stroke-width="0.22" >1</text>
<line x1="259.2" y1="492.00000000000006" x2="262" y2="492.00000000000006" stroke="#444" stroke-width="1" />
<text x="257.6" y="495.40000000000003" font-size="8.9" text-anchor="end" font-weight="normal" fill="#222" stroke="#222" stroke-width="0.22" >2</text>
<line x1="259.2" y1="465.15000000000003" x2="262" y2="465.15000000000003" stroke="#444" stroke-width="1" />
<text x="257.6" y="468.55" font-size="8.9" text-anchor="end" font-weight="normal" fill="#222" stroke="#222" stroke-width="0.22" >3</text>
<line x1="259.2" y1="438.30000000000007" x2="262" y2="438.30000000000007" stroke="#444" stroke-width="1" />
<text x="257.6" y="441.70000000000005" font-size="8.9" text-anchor="end" font-weight="normal" fill="#222" stroke="#222" stroke-width="0.22" >4</text>
<line x1="259.2" y1="411.45000000000005" x2="262" y2="411.45000000000005" stroke="#444" stroke-width="1" />
<text x="257.6" y="414.85" font-size="8.9" text-anchor="end" font-weight="normal" fill="#222" stroke="#222" stroke-width="0.22" >5</text>
<rect x="267.0" y="423.26400000000007" width="12.4" height="122.43599999999998" fill="#151515" />
<line x1="270.0" y1="422.66400000000004" x2="276.4" y2="422.66400000000004" stroke="#111" stroke-width="1.2" />
<line x1="273.2" y1="545.7" x2="273.2" y2="548.2" stroke="#444" stroke-width="1" />
<path d="M272.60,409.60L272.60,406.90M272.60,409.60L275.17,408.77M272.60,409.60L274.19,411.78M272.60,409.60L271.01,411.78M272.60,409.60L270.03,408.77" stroke="#111" stroke-width="1.35" stroke-linecap="round" fill="none"/>
<text x="0" y="0" font-size="10" text-anchor="end" font-weight="normal" fill="#222" stroke="#222" stroke-width="0.22" transform="translate(276.59999999999997,556.0) rotate(-45)">Msh6</text>
<rect x="289.2" y="446.355" width="12.4" height="99.34500000000003" fill="#151515" />
<line x1="295.4" y1="443.67" x2="295.4" y2="446.355" stroke="#111" stroke-width="1.3" />
<line x1="292.2" y1="443.67" x2="298.59999999999997" y2="443.67" stroke="#111" stroke-width="1.4" />
<line x1="295.4" y1="545.7" x2="295.4" y2="548.2" stroke="#444" stroke-width="1" />
<path d="M295.00,429.20L295.00,426.50M295.00,429.20L297.57,428.37M295.00,429.20L296.59,431.38M295.00,429.20L293.41,431.38M295.00,429.20L292.43,428.37" stroke="#111" stroke-width="1.35" stroke-linecap="round" fill="none"/>
<text x="0" y="0" font-size="10" text-anchor="end" font-weight="normal" fill="#222" stroke="#222" stroke-width="0.22" transform="translate(298.79999999999995,556.0) rotate(-45)">Slamf9</text>
<rect x="311.4" y="434.27250000000004" width="12.4" height="111.42750000000001" fill="#151515" />
<line x1="317.59999999999997" y1="427.023" x2="317.59999999999997" y2="434.27250000000004" stroke="#111" stroke-width="1.3" />
<line x1="314.4" y1="427.023" x2="320.79999999999995" y2="427.023" stroke="#111" stroke-width="1.4" />
<line x1="317.59999999999997" y1="545.7" x2="317.59999999999997" y2="548.2" stroke="#444" stroke-width="1" />
<path d="M317.10,411.20L317.10,408.50M317.10,411.20L319.67,410.37M317.10,411.20L318.69,413.38M317.10,411.20L315.51,413.38M317.10,411.20L314.53,410.37" stroke="#111" stroke-width="1.35" stroke-linecap="round" fill="none"/>
<text x="0" y="0" font-size="10" text-anchor="end" font-weight="normal" fill="#222" stroke="#222" stroke-width="0.22" transform="translate(320.99999999999994,556.0) rotate(-45)">Pten2</text>
<rect x="264.3" y="518.0" width="1.7" height="1.7" fill="#a0a0a0" />
<rect x="268.6" y="518.0" width="1.7" height="1.7" fill="#eee" />
<rect x="272.9" y="518.0" width="1.7" height="1.7" fill="#eee" />
<rect x="277.2" y="518.0" width="1.7" height="1.7" fill="#eee" />
<rect x="281.5" y="518.0" width="1.7" height="1.7" fill="#a0a0a0" />
<rect x="285.8" y="518.0" width="1.7" height="1.7" fill="#a0a0a0" />
<rect x="290.1" y="518.0" width="1.7" height="1.7" fill="#eee" />
<rect x="294.4" y="518.0" width="1.7" height="1.7" fill="#eee" />
<rect x="298.7" y="518.0" width="1.7" height="1.7" fill="#eee" />
<rect x="303.0" y="518.0" width="1.7" height="1.7" fill="#a0a0a0" />
<rect x="307.3" y="518.0" width="1.7" height="1.7" fill="#a0a0a0" />
<rect x="311.6" y="518.0" width="1.7" height="1.7" fill="#eee" />
<rect x="315.9" y="518.0" width="1.7" height="1.7" fill="#eee" />
<rect x="320.2" y="518.0" width="1.7" height="1.7" fill="#eee" />
<rect x="324.5" y="518.0" width="1.7" height="1.7" fill="#a0a0a0" />
<rect x="328.8" y="518.0" width="1.7" height="1.7" fill="#a0a0a0" />
<text x="0" y="0" font-size="10" text-anchor="middle" font-weight="normal" fill="#222" stroke="#222" stroke-width="0.22" transform="translate(245,476) rotate(-90)">Fold change over ctrl</text>
<text x="370.8" y="397.3" font-size="13.6" text-anchor="start" font-weight="bold" fill="#111" stroke="#111" stroke-width="0.35" >D</text>
<line x1="408.1" y1="401.9" x2="408.1" y2="434.3" stroke="#444" stroke-width="1.1" />
<line x1="405.2" y1="408.4" x2="408.1" y2="408.4" stroke="#444" stroke-width="1" />
<text x="404.5" y="411.79999999999995" font-size="8.9" text-anchor="end" font-weight="normal" fill="#222" stroke="#222" stroke-width="0.22" >4.0</text>
<line x1="405.2" y1="421.3" x2="408.1" y2="421.3" stroke="#444" stroke-width="1" />
<text x="404.5" y="424.7" font-size="8.9" text-anchor="end" font-weight="normal" fill="#222" stroke="#222" stroke-width="0.22" >3.0</text>
<line x1="405.2" y1="434.1" x2="408.1" y2="434.1" stroke="#444" stroke-width="1" />
<text x="404.5" y="437.5" font-size="8.9" text-anchor="end" font-weight="normal" fill="#222" stroke="#222" stroke-width="0.22" >2.0</text>
<line x1="408.1" y1="434.1" x2="410.3" y2="434.1" stroke="#444" stroke-width="1" />
<line x1="408.1" y1="439.3" x2="408.1" y2="543.9" stroke="#444" stroke-width="1.1" />
<line x1="407.6" y1="543.9" x2="518" y2="543.9" stroke="#444" stroke-width="1.1" />
<line x1="405.2" y1="439.79999999999995" x2="408.1" y2="439.79999999999995" stroke="#444" stroke-width="1" />
<text x="404.5" y="443.19999999999993" font-size="8.9" text-anchor="end" font-weight="normal" fill="#222" stroke="#222" stroke-width="0.22" >2.0</text>
<line x1="405.2" y1="465.825" x2="408.1" y2="465.825" stroke="#444" stroke-width="1" />
<text x="404.5" y="469.22499999999997" font-size="8.9" text-anchor="end" font-weight="normal" fill="#222" stroke="#222" stroke-width="0.22" >1.5</text>
<line x1="405.2" y1="491.84999999999997" x2="408.1" y2="491.84999999999997" stroke="#444" stroke-width="1" />
<text x="404.5" y="495.24999999999994" font-size="8.9" text-anchor="end" font-weight="normal" fill="#222" stroke="#222" stroke-width="0.22" >1.0</text>
<line x1="405.2" y1="517.875" x2="408.1" y2="517.875" stroke="#444" stroke-width="1" />
<text x="404.5" y="521.275" font-size="8.9" text-anchor="end" font-weight="normal" fill="#222" stroke="#222" stroke-width="0.22" >0.5</text>
<line x1="405.2" y1="543.9" x2="408.1" y2="543.9" stroke="#444" stroke-width="1" />
<text x="404.5" y="547.3" font-size="8.9" text-anchor="end" font-weight="normal" fill="#222" stroke="#222" stroke-width="0.22" >0.0</text>
<line x1="408.1" y1="439.6" x2="410.3" y2="439.6" stroke="#444" stroke-width="1" />
<text x="0" y="0" font-size="10" text-anchor="middle" font-weight="normal" fill="#222" stroke="#222" stroke-width="0.22" transform="translate(382.2,476.2) rotate(-90)">Fold change over KO</text>
<rect x="416.3" y="403.3" width="10.4" height="7.8" fill="#151515" stroke="#111" stroke-width="0.8"/>
<rect x="416.3" y="419.4" width="10.4" height="7.8" fill="#dcdcdc" stroke="#111" stroke-width="1.1"/>
<text x="431.6" y="410.3" font-size="8.8" text-anchor="start" font-weight="normal" fill="#222" stroke="#222" stroke-width="0.22" >H3K9me3</text>
<text x="431.6" y="426.2" font-size="8.8" text-anchor="start" font-weight="normal" fill="#222" stroke="#222" stroke-width="0.22" >H3Ac</text>
<rect x="414.4" y="474.15299999999996" width="10.6" height="69.74700000000001" fill="#151515" />
<line x1="419.7" y1="460.0995" x2="419.7" y2="474.15299999999996" stroke="#111" stroke-width="1.3" />
<line x1="416.9" y1="460.0995" x2="422.5" y2="460.0995" stroke="#111" stroke-width="1.4" />
<rect x="429.34999999999997" y="503.82149999999996" width="9.2" height="40.07850000000002" fill="#dcdcdc" stroke="#111" stroke-width="1.1"/>
<line x1="433.9" y1="498.09599999999995" x2="433.9" y2="503.82149999999996" stroke="#111" stroke-width="1.3" />
<line x1="431.09999999999997" y1="498.09599999999995" x2="436.69999999999993" y2="498.09599999999995" stroke="#111" stroke-width="1.4" />
<line x1="426.4" y1="543.9" x2="426.4" y2="546.4" stroke="#444" stroke-width="1" />
<text x="0" y="0" font-size="10" text-anchor="end" font-weight="normal" fill="#222" stroke="#222" stroke-width="0.22" transform="translate(429.09999999999997,555.7) rotate(-45)">Msh6</text>
<rect x="450.2" y="488.2065" width="10.6" height="55.69349999999997" fill="#151515" />
<line x1="452.7" y1="487.7065" x2="458.3" y2="487.7065" stroke="#111" stroke-width="1.1" />
<rect x="465.15" y="495.4935" width="9.2" height="48.406499999999994" fill="#dcdcdc" stroke="#111" stroke-width="1.1"/>
<line x1="469.7" y1="488.2065" x2="469.7" y2="495.4935" stroke="#111" stroke-width="1.3" />
<line x1="466.9" y1="488.2065" x2="472.49999999999994" y2="488.2065" stroke="#111" stroke-width="1.4" />
<line x1="462.2" y1="543.9" x2="462.2" y2="546.4" stroke="#444" stroke-width="1" />
<text x="0" y="0" font-size="10" text-anchor="end" font-weight="normal" fill="#222" stroke="#222" stroke-width="0.22" transform="translate(464.9,555.7) rotate(-45)">Slamf9</text>
<rect x="501.55" y="459.0585" width="9.2" height="84.8415" fill="#dcdcdc" stroke="#111" stroke-width="1.1"/>
<line x1="498.6" y1="543.9" x2="498.6" y2="546.4" stroke="#444" stroke-width="1" />
<text x="0" y="0" font-size="10" text-anchor="end" font-weight="normal" fill="#222" stroke="#222" stroke-width="0.22" transform="translate(501.3,555.7) rotate(-45)">Pten</text>
<rect x="487.4" y="439.1" width="10.8" height="104.79999999999995" fill="#151515" />
<rect x="487.4" y="418.0" width="10.8" height="16.5" fill="#151515" />
<line x1="492.8" y1="403.3" x2="492.8" y2="418.0" stroke="#111" stroke-width="1.3" />
<line x1="490.2" y1="403.3" x2="495.4" y2="403.3" stroke="#111" stroke-width="1.4" />
<line x1="506.2" y1="438.5" x2="506.2" y2="458.8" stroke="#111" stroke-width="1.3" />
<line x1="503.4" y1="433.2" x2="509.6" y2="433.2" stroke="#111" stroke-width="1.6" />
</svg>
</body></html>
